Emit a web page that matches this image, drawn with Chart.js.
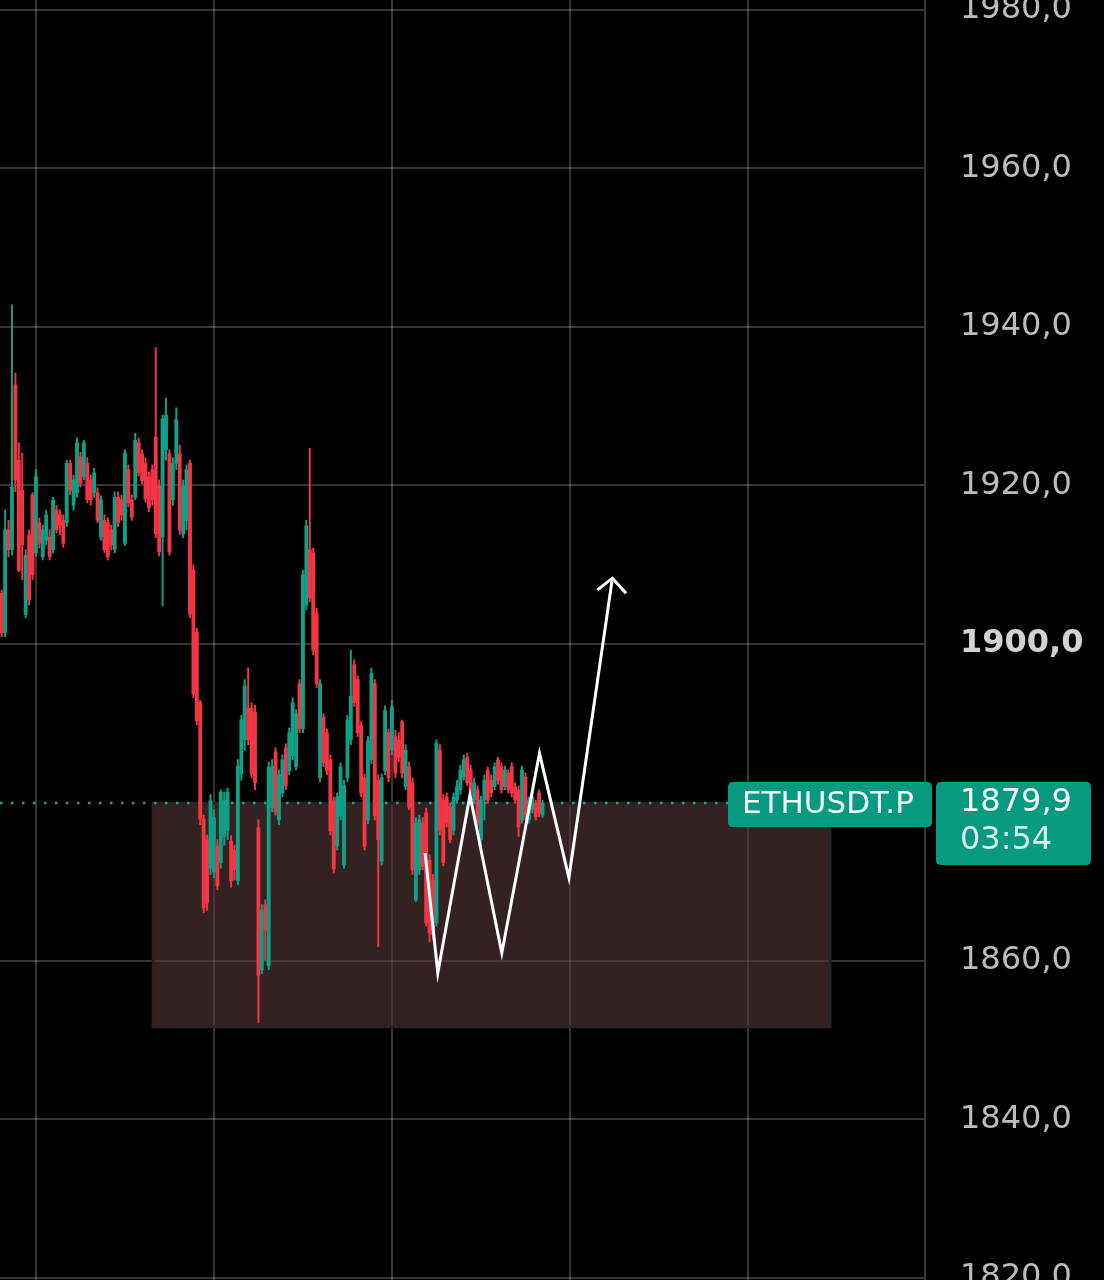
<!DOCTYPE html>
<html>
<head>
<meta charset="utf-8">
<title>ETHUSDT.P</title>
<script src="https://cdn.jsdelivr.net/npm/chart.js@4.4.1/dist/chart.umd.min.js"></script>
<style>
  html, body { margin: 0; padding: 0; background: #000; }
  #wrap { width: 1104px; height: 1280px; position: relative; }
</style>
</head>
<body>
<div id="wrap"><canvas id="ethChart"></canvas></div>
<script>
// Candles (one entry per bar, left to right)
const opens = [
  1906.4, 1901.4, 1914.4, 1911.9, 1932.7, 1923.2, 1919.4, 1903.7, 1913.8, 1918.8,
  1911.5, 1915.3, 1911.0, 1913.1, 1913.5, 1911.9, 1916.9, 1916.3, 1915.6, 1915.3,
  1922.8, 1917.5, 1919.1, 1923.6, 1921.1, 1922.8, 1920.7, 1919.1, 1919.1, 1913.5,
  1915.6, 1915.3, 1914.4, 1911.9, 1918.5, 1918.2, 1912.7, 1922.0, 1918.2, 1918.5,
  1925.4, 1924.0, 1922.8, 1921.1, 1922.0, 1926.1, 1919.9, 1913.5, 1924.5, 1924.0,
  1918.2, 1922.8, 1924.0, 1913.9, 1915.6, 1922.8, 1909.3, 1901.5, 1892.6, 1877.9,
  1875.3, 1871.7, 1871.2, 1874.5, 1872.4, 1875.7, 1876.5, 1875.1, 1874.0, 1870.1,
  1883.6, 1887.9, 1891.9, 1891.9, 1891.4, 1876.8, 1858.9, 1867.1, 1859.4, 1879.3,
  1886.4, 1877.8, 1881.2, 1886.9, 1884.0, 1885.9, 1884.5, 1895.0, 1889.3, 1904.9,
  1911.9, 1911.5, 1903.9, 1883.1, 1890.7, 1888.8, 1885.4, 1880.2, 1874.5, 1878.3,
  1872.1, 1883.1, 1887.9, 1897.4, 1895.5, 1889.7, 1883.1, 1877.8, 1885.4, 1895.0,
  1882.8, 1872.6, 1884.0, 1888.8, 1886.6, 1888.3, 1887.9, 1890.2, 1882.0, 1884.5,
  1882.5, 1867.7, 1871.5, 1877.4, 1878.7, 1872.7, 1870.2, 1864.8, 1886.6, 1880.3,
  1880.7, 1879.4, 1876.5, 1880.3, 1881.6, 1883.2, 1885.7, 1884.1, 1880.3, 1881.6,
  1875.3, 1880.3, 1884.1, 1882.8, 1882.0, 1885.4, 1884.5, 1882.0, 1883.7, 1884.5,
  1882.0, 1881.6, 1877.8, 1883.2, 1877.8, 1879.1, 1879.9, 1881.2, 1878.4
];
const closes = [
  1901.4, 1914.4, 1911.9, 1919.8, 1920.7, 1909.3, 1912.5, 1911.2, 1905.6, 1908.7,
  1921.1, 1912.7, 1914.4, 1916.3, 1911.0, 1918.2, 1914.4, 1915.0, 1912.7, 1922.8,
  1919.4, 1920.7, 1925.4, 1920.3, 1925.4, 1918.2, 1918.2, 1921.6, 1915.6, 1918.2,
  1911.9, 1911.0, 1912.5, 1918.5, 1915.3, 1916.3, 1924.1, 1917.8, 1916.0, 1925.7,
  1921.6, 1920.6, 1918.3, 1917.2, 1918.2, 1913.9, 1911.6, 1928.4, 1928.9, 1911.6,
  1922.8, 1928.3, 1914.4, 1919.9, 1922.0, 1903.8, 1893.7, 1890.3, 1877.9, 1866.7,
  1867.3, 1880.2, 1878.1, 1869.5, 1881.3, 1880.3, 1881.3, 1870.1, 1871.5, 1884.6,
  1890.4, 1894.7, 1887.9, 1883.6, 1882.5, 1858.2, 1866.4, 1863.9, 1884.5, 1884.5,
  1878.8, 1883.5, 1885.4, 1882.1, 1888.8, 1892.6, 1891.2, 1889.3, 1908.7, 1914.9,
  1905.8, 1899.2, 1895.0, 1895.0, 1885.0, 1884.0, 1876.4, 1871.6, 1880.7, 1884.5,
  1882.1, 1890.4, 1893.4, 1892.6, 1888.8, 1881.2, 1874.5, 1887.8, 1896.3, 1878.3,
  1875.3, 1883.1, 1891.6, 1883.1, 1892.1, 1883.7, 1885.7, 1883.7, 1886.6, 1879.4,
  1871.5, 1877.4, 1877.8, 1871.9, 1864.8, 1863.5, 1863.3, 1887.5, 1876.5, 1872.4,
  1877.4, 1875.3, 1880.7, 1882.0, 1884.1, 1885.4, 1882.5, 1881.2, 1882.5, 1877.4,
  1880.3, 1882.8, 1880.3, 1881.2, 1884.5, 1882.8, 1881.6, 1884.1, 1881.6, 1881.2,
  1880.3, 1876.9, 1884.1, 1878.2, 1880.3, 1880.7, 1878.2, 1878.7, 1879.9
];
const highs = [
  1906.8, 1916.9, 1915.6, 1942.8, 1934.2, 1925.4, 1924.1, 1911.9, 1914.4, 1919.1,
  1922.0, 1915.9, 1915.0, 1916.9, 1914.4, 1918.5, 1917.5, 1916.9, 1916.3, 1923.2,
  1923.2, 1921.3, 1926.0, 1924.2, 1925.7, 1923.5, 1921.3, 1922.2, 1919.7, 1918.7,
  1916.3, 1915.9, 1915.0, 1919.2, 1919.2, 1918.8, 1924.5, 1922.6, 1918.8, 1926.6,
  1926.0, 1924.5, 1923.5, 1921.7, 1922.6, 1937.4, 1920.7, 1928.9, 1931.0, 1924.5,
  1923.5, 1929.8, 1925.1, 1920.7, 1922.6, 1923.2, 1910.0, 1902.0, 1892.9, 1878.4,
  1875.9, 1881.0, 1879.1, 1875.3, 1881.6, 1881.3, 1881.8, 1875.8, 1874.6, 1885.4,
  1891.0, 1895.5, 1897.0, 1892.6, 1892.3, 1877.8, 1867.1, 1867.7, 1885.1, 1885.4,
  1886.9, 1884.1, 1886.0, 1887.4, 1889.4, 1893.2, 1891.7, 1895.5, 1909.3, 1915.6,
  1924.7, 1912.1, 1904.5, 1895.5, 1891.2, 1889.3, 1886.0, 1880.7, 1881.2, 1885.0,
  1882.8, 1891.0, 1899.2, 1898.0, 1896.0, 1890.2, 1883.6, 1888.3, 1897.0, 1895.5,
  1883.5, 1883.6, 1892.2, 1889.3, 1892.9, 1889.1, 1888.8, 1890.4, 1887.3, 1885.1,
  1883.1, 1878.1, 1878.4, 1878.1, 1879.3, 1873.4, 1870.9, 1887.9, 1887.3, 1881.0,
  1881.2, 1879.9, 1881.2, 1882.8, 1884.7, 1886.0, 1886.2, 1884.7, 1883.1, 1882.1,
  1880.8, 1883.5, 1884.5, 1883.5, 1885.0, 1885.7, 1885.0, 1884.6, 1884.1, 1885.0,
  1882.5, 1882.1, 1884.6, 1883.7, 1880.7, 1881.2, 1880.3, 1881.6, 1880.3
];
const lows = [
  1900.9, 1900.9, 1911.0, 1911.2, 1919.2, 1909.1, 1908.1, 1903.3, 1904.9, 1908.1,
  1911.1, 1912.1, 1910.6, 1912.5, 1910.6, 1911.5, 1914.0, 1913.8, 1912.2, 1914.8,
  1918.8, 1916.9, 1918.5, 1919.8, 1920.7, 1917.8, 1917.5, 1918.5, 1915.3, 1913.1,
  1911.5, 1910.6, 1911.9, 1911.5, 1914.8, 1915.6, 1912.4, 1917.3, 1915.6, 1918.2,
  1921.2, 1920.2, 1917.9, 1916.7, 1917.5, 1913.4, 1911.1, 1904.8, 1923.2, 1911.2,
  1917.5, 1922.0, 1913.8, 1913.4, 1914.4, 1903.3, 1893.2, 1889.8, 1877.2, 1866.1,
  1866.4, 1870.9, 1870.5, 1869.0, 1871.7, 1874.6, 1875.3, 1869.3, 1870.2, 1869.6,
  1882.8, 1886.6, 1887.3, 1883.1, 1881.6, 1852.2, 1858.4, 1860.1, 1858.9, 1878.8,
  1878.4, 1877.2, 1880.7, 1881.6, 1883.5, 1885.4, 1884.1, 1888.8, 1888.8, 1904.3,
  1905.3, 1898.6, 1894.5, 1882.6, 1884.5, 1883.5, 1875.9, 1871.1, 1874.0, 1877.8,
  1871.7, 1882.6, 1887.3, 1892.1, 1888.3, 1880.7, 1874.0, 1877.3, 1884.9, 1877.8,
  1861.8, 1872.1, 1883.5, 1882.6, 1886.0, 1883.1, 1885.1, 1883.1, 1881.6, 1879.1,
  1870.9, 1867.5, 1870.9, 1871.5, 1864.4, 1862.4, 1862.6, 1864.4, 1875.9, 1872.0,
  1876.9, 1874.9, 1875.9, 1879.9, 1881.0, 1882.8, 1882.1, 1880.7, 1879.9, 1877.0,
  1874.4, 1877.8, 1879.9, 1880.7, 1881.6, 1882.3, 1881.2, 1881.6, 1881.2, 1880.7,
  1879.9, 1875.7, 1877.4, 1877.8, 1877.4, 1878.7, 1877.8, 1878.2, 1878.1
];

// axis ticks (price labels on the right, time grid positions in bar units)
const priceTicks = [1820, 1840, 1860, 1900, 1920, 1940, 1960, 1980];
const timeTicks = [10, 62, 114, 166, 218];

// drawn objects: demand zone and the hand-drawn zigzag with arrow
const zoneX = [44.2, 242.0];
const zonePrice = [1851.7, 1879.9];
const pathX = [123.7, 127.4, 136.8, 146.1, 157.1, 165.7, 178.4];
const pathY = [1873.6, 1858.5, 1880.9, 1861.0, 1886.2, 1870.5, 1908.3];
const headX = [174.0, 178.4, 182.4];
const headY = [1906.8, 1908.3, 1906.4];

const symbol = 'ETHUSDT.P';
const countdown = '03:54';

const UP = '#109f87';
const DOWN = '#f23645';
const GRID = 'rgba(255,255,255,0.21)';
const fmt = v => v.toFixed(1).replace('.', ',');

const candleColors = closes.map((c, i) => c >= opens[i] ? UP : DOWN);
const bodyData = opens.map((o, i) => ({ x: i, y: [o, closes[i]] }));
const wickData = lows.map((l, i) => ({ x: i, y: [l, highs[i]] }));
const pathData = pathX.map((x, i) => ({ x: x, y: pathY[i] }));
const headData = headX.map((x, i) => ({ x: x, y: headY[i] }));

// zone box + dotted last price line, under the candles
const zonePlugin = {
    id: 'zonePlugin',
    beforeDatasetsDraw(chart) {
        const { ctx, chartArea, scales } = chart;
        const x0 = scales.x.getPixelForValue(zoneX[0]);
        const x1 = scales.x.getPixelForValue(zoneX[1]);
        const y0 = scales.y.getPixelForValue(zonePrice[1]);
        const y1 = scales.y.getPixelForValue(zonePrice[0]);
        ctx.save();
        ctx.fillStyle = 'rgba(86,57,59,0.6)';
        ctx.fillRect(x0, y0, x1 - x0, y1 - y0);
        ctx.strokeStyle = 'rgba(40,36,37,1)';
        ctx.lineWidth = 3;
        ctx.strokeRect(x0, y0, x1 - x0, y1 - y0);

        const yp = Math.round(scales.y.getPixelForValue(closes[closes.length - 1]));
        ctx.setLineDash([2.5, 8.5]);
        ctx.strokeStyle = '#13a88c';
        ctx.lineWidth = 2.5;
        ctx.beginPath();
        ctx.moveTo(chartArea.left, yp);
        ctx.lineTo(chartArea.right, yp);
        ctx.stroke();
        ctx.restore();
    }
};

function fillRound(ctx, x, y, w, h, r) {
    ctx.beginPath();
    ctx.moveTo(x + r, y);
    ctx.lineTo(x + w - r, y);
    ctx.quadraticCurveTo(x + w, y, x + w, y + r);
    ctx.lineTo(x + w, y + h - r);
    ctx.quadraticCurveTo(x + w, y + h, x + w - r, y + h);
    ctx.lineTo(x + r, y + h);
    ctx.quadraticCurveTo(x, y + h, x, y + h - r);
    ctx.lineTo(x, y + r);
    ctx.quadraticCurveTo(x, y, x + r, y);
    ctx.closePath();
    ctx.fill();
}

// symbol tag and price / countdown tag on the price scale
const priceTagPlugin = {
    id: 'priceTagPlugin',
    afterDraw(chart) {
        const { ctx, chartArea, scales } = chart;
        const last = closes[closes.length - 1];
        const yp = Math.round(scales.y.getPixelForValue(last));
        const right = chartArea.right;
        ctx.save();
        ctx.fillStyle = '#089981';
        fillRound(ctx, right - 197, yp - 21, 204, 45, 5);
        fillRound(ctx, right + 11, yp - 21, 155, 83, 5);

        ctx.fillStyle = '#f2fbf9';
        ctx.textBaseline = 'middle';
        ctx.textAlign = 'left';
        ctx.font = '31px "DejaVu Sans"';
        ctx.fillText(symbol, right - 183, yp + 2);
        ctx.font = '32px "DejaVu Sans"';
        ctx.fillText(fmt(last), right + 35, yp);
        ctx.fillStyle = '#d6efe9';
        ctx.fillText(countdown, right + 35, yp + 38);
        ctx.restore();
    }
};

const ctx = document.getElementById('ethChart');
new Chart(ctx, {
    type: 'bar',
    data: {
        datasets: [
            {
                type: 'line',
                data: pathData,
                borderColor: '#ffffff',
                borderWidth: 3,
                borderJoinStyle: 'miter',
                pointRadius: 0,
                tension: 0,
                order: 0
            },
            {
                type: 'line',
                data: headData,
                borderColor: '#ffffff',
                borderWidth: 3,
                borderJoinStyle: 'miter',
                pointRadius: 0,
                tension: 0,
                order: 0
            },
            {
                data: bodyData,
                backgroundColor: candleColors,
                borderWidth: 0,
                grouped: false,
                barThickness: 3.2,
                minBarLength: 1,
                order: 1
            },
            {
                data: wickData,
                backgroundColor: candleColors,
                borderWidth: 0,
                grouped: false,
                barThickness: 1.3,
                order: 2
            }
        ]
    },
    options: {
        responsive: true,
        maintainAspectRatio: false,
        animation: false,
        layout: { padding: 0 },
        plugins: {
            legend: { display: false },
            tooltip: { enabled: false }
        },
        scales: {
            x: {
                type: 'linear',
                min: -0.5,
                max: 269.73,
                offset: false,
                afterBuildTicks: s => { s.ticks = timeTicks.map(v => ({ value: v })); },
                afterFit: s => { s.height = 0; s.paddingLeft = 0; s.paddingRight = 0; },
                ticks: { display: false },
                grid: { color: GRID, lineWidth: 2, drawTicks: false, offset: false },
                border: { display: false }
            },
            y: {
                position: 'right',
                min: 1819.74,
                max: 1981.26,
                afterBuildTicks: s => { s.ticks = priceTicks.map(v => ({ value: v })); },
                afterFit: s => { s.width = 179; s.paddingTop = 0; s.paddingBottom = 0; },
                grid: { color: GRID, lineWidth: 2, drawTicks: false },
                border: { display: true, color: GRID, width: 2 },
                ticks: {
                    padding: 35,
                    callback: v => fmt(v),
                    color: c => c.tick && c.tick.value === 1900 ? '#d2d2d2' : '#bcbcbc',
                    font: c => ({
                        family: '"DejaVu Sans"',
                        size: 32,
                        weight: c.tick && c.tick.value === 1900 ? 'bold' : 'normal'
                    })
                }
            }
        }
    },
    plugins: [zonePlugin, priceTagPlugin]
});
</script>
</body>
</html>
